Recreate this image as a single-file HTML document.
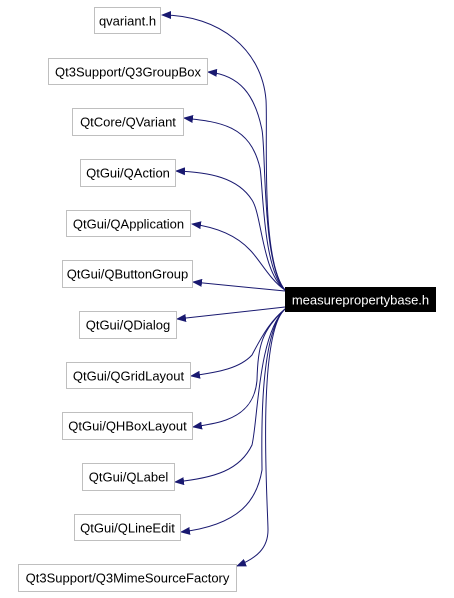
<!DOCTYPE html>
<html><head><meta charset="utf-8"><style>
html,body{margin:0;padding:0;background:#fff;}
svg{display:block;}
text{font-family:"Liberation Sans",Arial,sans-serif;font-size:13px;fill:#000;}
</style></head><body>
<svg width="454" height="598" viewBox="0 0 454 598" xmlns="http://www.w3.org/2000/svg">
<defs>
<marker id="a" markerWidth="10" markerHeight="8" refX="9" refY="4" orient="auto" markerUnits="userSpaceOnUse">
<path d="M0,0 L10,4 L0,8 Z" fill="#191970"/>
</marker>
</defs>
<g fill="none" stroke="#191970" stroke-width="1" marker-end="url(#a)">
<path d="M285,290 C260,260 268,130 266,100 C262,50 220,15 162,15"/>
<path d="M285,290 C262,265 266,150 262,130 C255,95 240,75 208,72"/>
<path d="M285,290 C263,270 263,185 260,168 C250,125 220,122 184,118"/>
<path d="M285,290 C262,272 262,215 252,200 C238,178 210,172 176,171"/>
<path d="M285,290 C270,280 260,260 250,250 C236,235 215,227 192,224"/>
<path d="M285,291 L193,282"/>
<path d="M285,307 L177,319"/>
<path d="M285,309 C272,320 265,330 252,355 C240,368 220,372 191,376"/>
<path d="M285,309 C262,330 258,345 257,380 C255,405 240,415 226,420 C215,424 205,425 193,427"/>
<path d="M285,309 C258,335 258,420 252,445 C240,470 215,478 175,482"/>
<path d="M285,309 C258,335 262,450 262,470 C257,500 240,525 181,532"/>
<path d="M285,309 C256,335 268,510 268,530 C268,548 257,558 237,566"/>
</g>
<g fill="#fff" stroke="#bfbfbf" stroke-width="1">
<rect x="94.5" y="7.5" width="66" height="26"/>
<rect x="48.5" y="58.5" width="159" height="26"/>
<rect x="72.5" y="108.5" width="111" height="27"/>
<rect x="80.5" y="159.5" width="95" height="27"/>
<rect x="66.5" y="210.5" width="124" height="26"/>
<rect x="62.5" y="260.5" width="130" height="27"/>
<rect x="79.5" y="311.5" width="97" height="27"/>
<rect x="66.5" y="362.5" width="124" height="26"/>
<rect x="62.5" y="412.5" width="130" height="27"/>
<rect x="82.5" y="463.5" width="92" height="27"/>
<rect x="74.5" y="514.5" width="106" height="26"/>
<rect x="18.5" y="564.5" width="218" height="27"/>
</g>
<rect x="285" y="287" width="151" height="25" fill="#000"/>
<g text-anchor="middle">
<text x="127.5" y="25.5">qvariant.h</text>
<text x="128" y="76.5">Qt3Support/Q3GroupBox</text>
<text x="128" y="126.5">QtCore/QVariant</text>
<text x="128" y="177.5">QtGui/QAction</text>
<text x="128.5" y="228.5">QtGui/QApplication</text>
<text x="127.5" y="278.5">QtGui/QButtonGroup</text>
<text x="128" y="329.5">QtGui/QDialog</text>
<text x="128.5" y="380.5">QtGui/QGridLayout</text>
<text x="127.5" y="430.5">QtGui/QHBoxLayout</text>
<text x="128.5" y="481.5">QtGui/QLabel</text>
<text x="127.5" y="532.5">QtGui/QLineEdit</text>
<text x="127.5" y="582.5">Qt3Support/Q3MimeSourceFactory</text>
<text x="360.5" y="304.5" style="fill:#fff">measurepropertybase.h</text>
</g>
</svg>
</body></html>
